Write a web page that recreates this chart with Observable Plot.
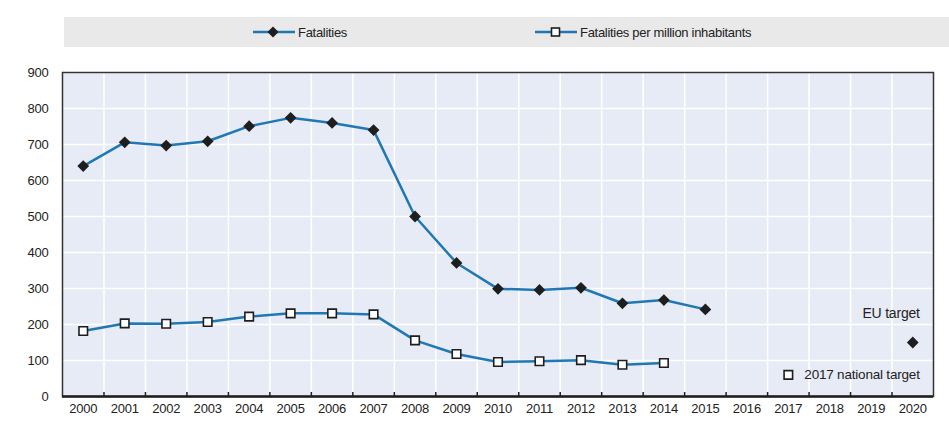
<!DOCTYPE html>
<html><head><meta charset="utf-8">
<script src="https://cdn.jsdelivr.net/npm/d3@7"></script>
<script src="https://cdn.jsdelivr.net/npm/@observablehq/plot@0.6"></script>
<style>
body{margin:0;background:#fff;font-family:"Liberation Sans Narrow","Arial Narrow","Liberation Sans",sans-serif;}
#wrap{position:relative;width:949px;height:421px;overflow:hidden}
#legend{position:relative;height:50px}
#lgbox{position:absolute;left:64px;top:17px;width:885px;height:30px;background:#e9e9ea}
.item{position:absolute;top:17px;height:30px;display:flex;align-items:center;font-size:13px;letter-spacing:-0.3px;color:#222}
.item svg{margin-right:3px}
svg text{letter-spacing:-0.2px}
</style></head>
<body><div id="wrap"><div id="legend"><div id="lgbox"></div></div><div id="chart"></div></div>
<script>
const years = [2000,2001,2002,2003,2004,2005,2006,2007,2008,2009,2010,2011,2012,2013,2014,2015,2016,2017,2018,2019,2020];
const fatalityYears = [2000,2001,2002,2003,2004,2005,2006,2007,2008,2009,2010,2011,2012,2013,2014,2015];
const fatalities = [640,706,697,709,751,774,760,740,500,371,299,296,302,259,268,242];
const perMillionYears = [2000,2001,2002,2003,2004,2005,2006,2007,2008,2009,2010,2011,2012,2013,2014];
const perMillion = [182,203,202,207,222,231,231,228,156,118,96,98,101,88,93];
const euTarget = [{year: 2020, value: 150, label: "EU target"}];
const nationalTarget = [{year: 2017, value: 60, label: "2017 national target"}];
const yTicks = [0,100,200,300,400,500,600,700,800,900];
const seriesNames = ["Fatalities", "Fatalities per million inhabitants"];

const blue = "#1f78b4";
const ink = "#1e1e1e";
const font = '"Liberation Sans Narrow","Arial Narrow","Liberation Sans",sans-serif';

const fatData = fatalityYears.map((y, i) => ({year: y, value: fatalities[i]}));
const pmData = perMillionYears.map((y, i) => ({year: y, value: perMillion[i]}));
const boundaries = years.slice(1).map(y => y - 0.5);

// legend
const legend = document.getElementById("legend");
const items = [
  {left: 253, name: seriesNames[0], sym: `<path d="M20,9.5L25.5,15L20,20.5L14.5,15Z" fill="${ink}"/>`},
  {left: 535, name: seriesNames[1], sym: `<rect x="16.5" y="11" width="8" height="8" fill="#fff" stroke="${ink}" stroke-width="1.6"/>`}
];
items.forEach(it => {
  const d = document.createElement("div");
  d.className = "item";
  d.style.left = it.left + "px";
  d.innerHTML = `<svg width="42" height="30"><line x1="0" x2="42" y1="15" y2="15" stroke="${blue}" stroke-width="2.5"/>${it.sym}</svg><span>${it.name}</span>`;
  legend.appendChild(d);
});

const chart = Plot.plot({
  width: 949,
  height: 371,
  marginTop: 22,
  marginLeft: 62,
  marginRight: 16,
  marginBottom: 25,
  style: {fontFamily: font, fontSize: "13px", color: ink, background: "transparent"},
  x: {domain: [1999.5, 2020.5], label: null},
  y: {domain: [0, 900], label: null},
  marks: [
    Plot.frame({fill: "#e7ebf5"}),
    Plot.gridY(yTicks, {stroke: "#fff", strokeOpacity: 1, strokeWidth: 1.5}),
    Plot.gridX(boundaries, {stroke: "#fff", strokeOpacity: 1, strokeWidth: 1.5}),
    Plot.frame({stroke: "#333", strokeWidth: 1.5}),
    Plot.ruleY([0], {stroke: ink, strokeWidth: 2.5}),
    Plot.axisY(yTicks, {tickSize: 0, tickPadding: 14, fill: "#222", label: null}),
    Plot.axisX(years, {tickSize: 0, tickPadding: 7, tickFormat: d => String(d), fill: "#222", label: null}),
    Plot.axisX(boundaries, {tickSize: -4, tickFormat: () => "", stroke: ink, strokeWidth: 1.5, label: null}),
    Plot.line(fatData, {x: "year", y: "value", stroke: blue, strokeWidth: 2.5}),
    Plot.line(pmData, {x: "year", y: "value", stroke: blue, strokeWidth: 2.5}),
    Plot.dot(fatData, {x: "year", y: "value", symbol: "diamond2", r: 5.3, fill: ink, stroke: "none"}),
    Plot.dot(pmData, {x: "year", y: "value", symbol: "square", r: 4.8, fill: "#fff", stroke: ink, strokeWidth: 1.6}),
    Plot.dot(euTarget, {x: "year", y: "value", symbol: "diamond2", r: 5.3, fill: ink, stroke: "none"}),
    Plot.text(euTarget, {x: "year", y: "value", text: "label", textAnchor: "end", dx: 7, dy: -29, fontSize: 14, fill: "#222"}),
    Plot.dot(nationalTarget, {x: "year", y: "value", symbol: "square", r: 4.8, fill: "#fff", stroke: ink, strokeWidth: 1.6}),
    Plot.text(nationalTarget, {x: "year", y: "value", text: "label", textAnchor: "start", dx: 16, fontSize: 13.5, fill: "#222"})
  ]
});
document.getElementById("chart").appendChild(chart);
</script>
</body></html>
